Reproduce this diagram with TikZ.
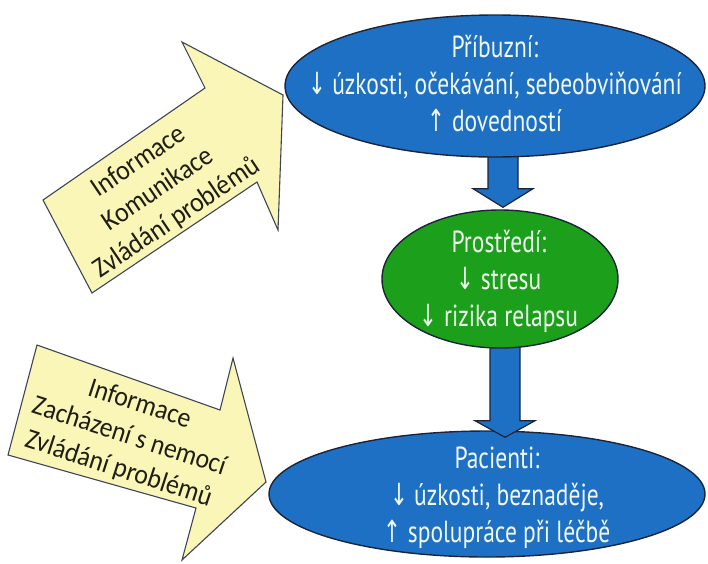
\documentclass[tikz,border=0pt]{standalone}
\usepackage{fontspec}
\setmainfont{Carlito}[FakeStretch=0.92]
\newfontfamily\ellfont{PT Sans}[FakeStretch=0.77]
\newfontfamily\arrfont{DejaVu Sans}[FakeStretch=0.7]
\usetikzlibrary{shapes.geometric,calc}
\pgfdeclarelayer{lowest}
\pgfdeclarelayer{low}
\pgfsetlayers{lowest,low,main}
\definecolor{ellblue}{RGB}{30,112,196}
\definecolor{ellgreen}{RGB}{28,160,28}
\definecolor{ylw}{RGB}{250,246,184}
\definecolor{outl}{RGB}{28,36,58}
\definecolor{etext}{RGB}{240,248,240}
\definecolor{ytext}{RGB}{30,30,20}
\newcommand{\dnar}{{\arrfont ↓}}
\newcommand{\upar}{{\arrfont ↑}}
\tikzset{
  ellshape/.style={ellipse, draw=outl, line width=1.4pt, inner sep=0pt},
  elltext/.style={align=center, text=etext, font=\ellfont\fontsize{30.5}{37}\selectfont, inner sep=0pt},
  bluearr/.style={fill=ellblue, draw=outl, line width=1.2pt, line join=miter},
  yarrow/.style={fill=ylw, draw=outl!85, line width=1.1pt, line join=miter},
  ytxt/.style={align=center, text=ytext, font=\fontsize{28}{34}\selectfont, inner sep=0pt}
}
\begin{document}
\begin{tikzpicture}[x=1pt,y=-1pt]
\useasboundingbox (0,0) rectangle (708,563);

% yellow block arrows
\draw[yarrow] (43,200) -- (205,88) -- (182,42) -- (283,95) -- (278,230) -- (257,182) -- (92,293) -- cycle;
\node[ytxt, rotate=34] (ya) at (158,190) {Informace\\Komunikace\\Zvládání problémů};

\draw[yarrow] (37,345) -- (220,410) -- (233,358) -- (266,482) -- (182,560) -- (196,508) -- (8,455) -- cycle;
\node[ytxt, rotate=-18] (yb) at (129,437) {Informace\\Zacházení s nemocí\\Zvládání problémů};

% ellipses
\node[ellshape, fill=ellblue, minimum width=420, minimum height=142] (top) at (495,86) {};
\node[ellshape, fill=ellgreen, minimum width=236, minimum height=138] (mid) at (500,279) {};
\begin{pgfonlayer}{lowest}
\node[ellshape, fill=ellblue, minimum width=436, minimum height=126] (bot) at (487,494) {};
\end{pgfonlayer}

% blue arrows
\begin{pgfonlayer}{low}
\draw[bluearr] ($(top.south)+(-7,-8)$) -- ++(30,0) -- ++(0,39) -- ++(15,0)
  -- ($(mid.north)+(3,-2)$) -- ($(top.south)+(-22,31)$) -- ++(15,0) -- cycle;
\draw[bluearr] ($(mid.south)+(-10,-8)$) -- ++(30,0) -- ++(0,80) -- ++(15,0)
  -- ($(bot.north)+(18,7)$) -- ($(mid.south)+(-25,72)$) -- ++(15,0) -- cycle;
\end{pgfonlayer}

% texts
\node[elltext] (toptext) at (495,84) {Příbuzní:\\\dnar\ úzkosti, očekávání, sebeobviňování\\\upar\ dovedností};
\node[elltext] (midtext) at (499,281) {Prostředí:\\\dnar\ stresu\\\dnar\ rizika relapsu};
\node[elltext] (bottext) at (497,498) {Pacienti:\\\dnar\ úzkosti, beznaděje,\\\upar\ spolupráce při léčbě};
\end{tikzpicture}
\end{document}
